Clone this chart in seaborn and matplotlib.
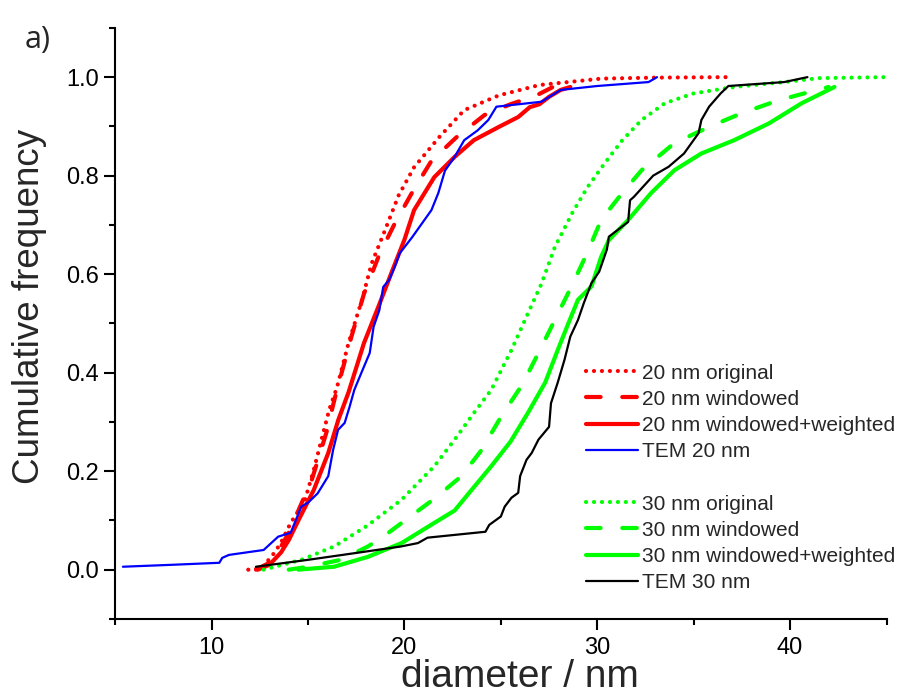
import matplotlib
matplotlib.use("Agg")
import matplotlib.pyplot as plt
from matplotlib.lines import Line2D
from matplotlib.ticker import MultipleLocator
import seaborn as sns
import pandas as pd

# ---------------- data ----------------
r20_orig_x = [11.9, 12.6, 13.25, 13.6, 14.1, 14.8, 15.3, 15.7, 16.1, 16.5, 17.1, 17.8, 18.3, 19.0,
              19.7, 20.5, 21.8, 23.1, 24.9, 27.0, 28.5, 30.2, 33.0, 36.7]
r20_orig_y = [0.0, 0.003, 0.034, 0.055, 0.095, 0.136, 0.203, 0.264, 0.325, 0.37, 0.46, 0.548, 0.622, 0.69,
              0.76, 0.817, 0.878, 0.933, 0.963, 0.984, 0.99, 0.997, 0.999, 1.0]

r20_win_x = [12.3, 12.9, 13.5, 14.0, 14.5, 15.2, 15.95, 16.4, 17.25, 17.9, 18.7, 19.5, 20.46, 21.4,
             22.7, 24.15, 25.5, 26.8, 27.7, 28.2]
r20_win_y = [0.0, 0.012, 0.04, 0.075, 0.12, 0.183, 0.278, 0.35, 0.473, 0.56, 0.64, 0.703, 0.77, 0.83,
             0.878, 0.923, 0.945, 0.962, 0.98, 0.99]

r20_ww_x = [12.4, 13.0, 13.6, 14.0, 14.5, 15.3, 16.05, 16.57, 17.1, 17.9, 18.65, 19.3, 20.0, 20.5,
            21.55, 22.6, 23.6, 24.9, 25.9, 26.5, 27.0, 27.5, 28.1, 28.6]
r20_ww_y = [0.0, 0.01, 0.035, 0.06, 0.10, 0.162, 0.237, 0.304, 0.36, 0.46, 0.534, 0.60, 0.67, 0.73,
            0.797, 0.838, 0.872, 0.899, 0.919, 0.939, 0.945, 0.96, 0.974, 0.98]

tem20_x = [5.4, 8.0, 10.4, 10.55, 10.9, 12.7, 13.45, 14.1, 14.65, 15.0, 15.5, 16.05, 16.3, 16.56, 16.9,
           17.15, 17.4, 17.77, 18.2, 18.4, 18.7, 18.9, 19.2, 19.5, 19.75, 20.4, 21.4, 21.76, 22.1, 22.6,
           23.1, 23.8, 24.35, 24.77, 27.1, 28.1, 30.0, 32.66, 33.1]
tem20_y = [0.006, 0.010, 0.014, 0.024, 0.03, 0.04, 0.067, 0.075, 0.128, 0.136, 0.155, 0.19, 0.243, 0.284,
           0.298, 0.33, 0.365, 0.40, 0.44, 0.493, 0.527, 0.574, 0.588, 0.615, 0.642, 0.675, 0.73, 0.765,
           0.81, 0.838, 0.872, 0.892, 0.913, 0.94, 0.95, 0.974, 0.982, 0.99, 1.0]

g30_orig_x = [12.7, 14.65, 16.35, 18.1, 19.85, 21.55, 22.6, 23.6, 24.5, 25.55, 26.4, 27.1, 27.8, 28.7,
              29.5, 30.4, 31.3, 32.3, 33.5, 35.0, 37.1, 39.7, 41.5, 45.0]
g30_orig_y = [0.0, 0.02, 0.047, 0.09, 0.142, 0.21, 0.264, 0.318, 0.365, 0.446, 0.52, 0.58, 0.655, 0.724,
              0.777, 0.826, 0.872, 0.913, 0.947, 0.967, 0.98, 0.99, 0.998, 1.0]

g30_win_x = [14.0, 15.0, 16.7, 18.1, 18.9, 20.2, 21.55, 22.96, 24.0, 25.0, 26.1, 26.95, 27.8, 28.7,
             29.5, 30.2, 31.3, 32.3, 34.0, 35.8, 37.5, 39.4, 41.5, 42.0]
g30_win_y = [0.0, 0.006, 0.02, 0.047, 0.067, 0.105, 0.144, 0.19, 0.243, 0.31, 0.375, 0.44, 0.507, 0.578,
             0.645, 0.71, 0.765, 0.811, 0.866, 0.899, 0.927, 0.953, 0.975, 0.98]

g30_ww_x = [14.5, 16.35, 18.1, 19.85, 21.55, 22.6, 23.4, 24.5, 25.5, 26.4, 27.3, 27.95, 28.5, 29.0,
            29.7, 30.2, 30.6, 31.6, 32.8, 34.0, 35.4, 37.1, 38.9, 40.6, 42.3]
g30_ww_y = [0.0, 0.006, 0.026, 0.054, 0.095, 0.12, 0.158, 0.21, 0.26, 0.318, 0.38, 0.446, 0.5, 0.548,
            0.575, 0.635, 0.669, 0.71, 0.765, 0.811, 0.845, 0.872, 0.906, 0.947, 0.98]

tem30_x = [12.3, 15.0, 17.5, 19.8, 20.7, 21.2, 24.2, 24.4, 25.0, 25.2, 25.55, 25.9, 26.0, 26.33, 26.6,
           26.95, 27.5, 27.6, 27.95, 28.3, 28.6, 29.0, 29.3, 29.7, 30.1, 30.5, 30.6, 31.6, 31.7, 31.9,
           32.9, 33.7, 34.5, 35.25, 35.4, 35.8, 36.4, 36.8, 39.7, 40.9]
tem30_y = [0.006, 0.02, 0.034, 0.047, 0.054, 0.065, 0.077, 0.091, 0.108, 0.128, 0.146, 0.156, 0.19, 0.223,
           0.237, 0.264, 0.29, 0.338, 0.38, 0.426, 0.473, 0.507, 0.541, 0.582, 0.605, 0.65, 0.676, 0.706,
           0.75, 0.757, 0.80, 0.818, 0.845, 0.886, 0.913, 0.94, 0.967, 0.982, 0.99, 1.0]

labels = ["20 nm original", "20 nm windowed", "20 nm windowed+weighted", "TEM 20 nm",
          "30 nm original", "30 nm windowed", "30 nm windowed+weighted", "TEM 30 nm"]

x_ticks = [10, 20, 30, 40]
y_ticks = [0.0, 0.2, 0.4, 0.6, 0.8, 1.0]

# ---------------- style ----------------
sns.set_style("ticks")
plt.rcParams["font.family"] = ["Liberation Sans", "DejaVu Sans"]

fig = plt.figure(figsize=(9.0, 6.97), dpi=100)
ax = fig.add_axes([0.128, 0.112, 0.857, 0.848])

DOT = (0, (0.01, 1.9))
DASH = (0, (3.5, 5.2))

series = [
    (r20_orig_x, r20_orig_y, labels[0], "#ff0000", 3.0, DOT),
    (r20_win_x, r20_win_y, labels[1], "#ff0000", 3.0, DASH),
    (r20_ww_x, r20_ww_y, labels[2], "#ff0000", 3.0, "-"),
    (tem20_x, tem20_y, labels[3], "#0000ff", 1.6, "-"),
    (g30_orig_x, g30_orig_y, labels[4], "#00ff00", 3.0, DOT),
    (g30_win_x, g30_win_y, labels[5], "#00ff00", 3.0, DASH),
    (g30_ww_x, g30_ww_y, labels[6], "#00ff00", 3.0, "-"),
    (tem30_x, tem30_y, labels[7], "#000000", 1.6, "-"),
]

handles = []
for xs, ys, lab, col, lw, ls in series:
    df = pd.DataFrame({"x": xs, "y": ys})
    n_before = len(ax.lines)
    sns.lineplot(data=df, x="x", y="y", ax=ax, color=col, linewidth=lw,
                 estimator=None, sort=False, label=lab, legend=False)
    line = ax.lines[n_before]
    line.set_linestyle(ls)
    line.set_dash_capstyle("round")
    line.set_solid_capstyle("round")
    handles.append(line)

blank = Line2D([], [], color="none", label=" ")
leg_handles = handles[:4] + [blank] + handles[4:]
leg_labels = labels[:4] + [" "] + labels[4:]
ax.legend(leg_handles, leg_labels, loc="upper left", bbox_to_anchor=(0.611, 0.432),
          frameon=False, fontsize=15, handlelength=2.45, handletextpad=0.2,
          labelspacing=0.345, borderpad=0, borderaxespad=0)

ax.set_xlim(5, 45)
ax.set_ylim(-0.1, 1.1)
ax.set_xticks(x_ticks)
ax.set_yticks(y_ticks)
ax.set_yticklabels([f"{v:.1f}" for v in y_ticks])
ax.xaxis.set_minor_locator(MultipleLocator(5))
ax.yaxis.set_minor_locator(MultipleLocator(0.1))

for s in ["top", "right"]:
    ax.spines[s].set_visible(False)
for s in ["left", "bottom"]:
    ax.spines[s].set_linewidth(1.5)
    ax.spines[s].set_color("black")

ax.tick_params(which="major", direction="out", length=8, width=1.5, labelsize=17,
               colors="black", pad=4)
ax.tick_params(which="minor", direction="out", length=4, width=1.5, colors="black")
ax.tick_params(axis="x", which="major", pad=5)

ax.set_xlabel("diameter / nm", fontsize=28)
ax.xaxis.set_label_coords(0.525, -0.068)
ax.set_ylabel("Cumulative frequency", fontsize=26.5)
ax.yaxis.set_label_coords(-0.088, 0.528)

fig.text(0.027, 0.943, "a)", fontsize=22, ha="left", va="center",
         family=["Open Sans", "DejaVu Sans"])

fig.savefig("out.png", dpi=100)
